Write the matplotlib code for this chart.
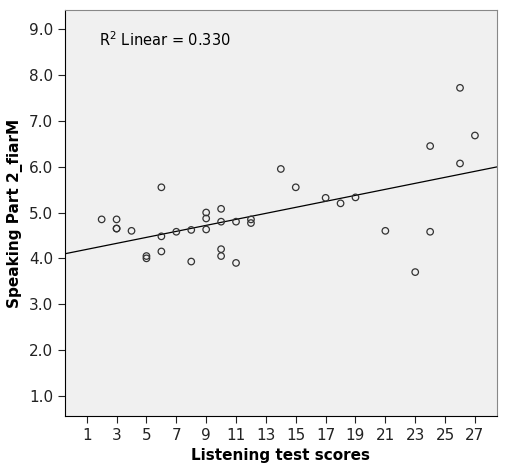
import numpy as np
import matplotlib
matplotlib.use('Agg')
import matplotlib.pyplot as plt

listening = [2, 3, 3, 3, 4, 5, 5, 6, 6, 6, 7, 8, 8, 9, 9, 9, 10, 10, 10, 10,
             11, 11, 12, 12, 14, 15, 17, 18, 19, 21, 23, 24, 24, 26, 26, 27]
speaking = [4.85, 4.85, 4.65, 4.65, 4.6, 4.05, 4.0, 5.55, 4.48, 4.15, 4.58,
            4.62, 3.93, 5.0, 4.87, 4.63, 5.08, 4.8, 4.2, 4.05, 4.8, 3.9,
            4.85, 4.77, 5.95, 5.55, 5.32, 5.2, 5.33, 4.6, 3.7, 6.45, 4.58,
            7.72, 6.07, 6.68]
fit_line = (0.0655, 4.13)  # slope, intercept of the SPSS fit line
r2_text = 'R$^2$ Linear = 0.330'

fig = plt.figure(figsize=(5.06, 4.73), dpi=100)
ax = fig.add_axes([0.128, 0.1205, 0.854, 0.8585])
ax.set_facecolor('#f0f0f0')

ax.scatter(listening, speaking, s=22, facecolors='none', edgecolors='#333333', linewidths=0.9, zorder=3)
xl = np.array([-0.47, 28.47])
ax.plot(xl, fit_line[0] * xl + fit_line[1], color='black', linewidth=0.9, zorder=2)

ax.set_xlim(-0.47, 28.47)
ax.set_ylim(0.56, 9.42)
ax.set_xticks(range(1, 28, 2))
ax.set_yticks(np.arange(1, 9.5, 1))
ax.set_yticklabels([f'{v:.1f}' for v in np.arange(1, 9.5, 1)])
ax.tick_params(labelsize=11, length=5, colors='#222222')
for s in ['top', 'right']:
    ax.spines[s].set_color('#888888')
ax.text(0.08, 0.95, r2_text, transform=ax.transAxes, fontsize=10.5, va='top')
ax.set_xlabel('Listening test scores', fontsize=11, fontweight='bold')
ax.set_ylabel('Speaking Part 2_fiarM', fontsize=11, fontweight='bold')

fig.savefig('out.png', dpi=100)
